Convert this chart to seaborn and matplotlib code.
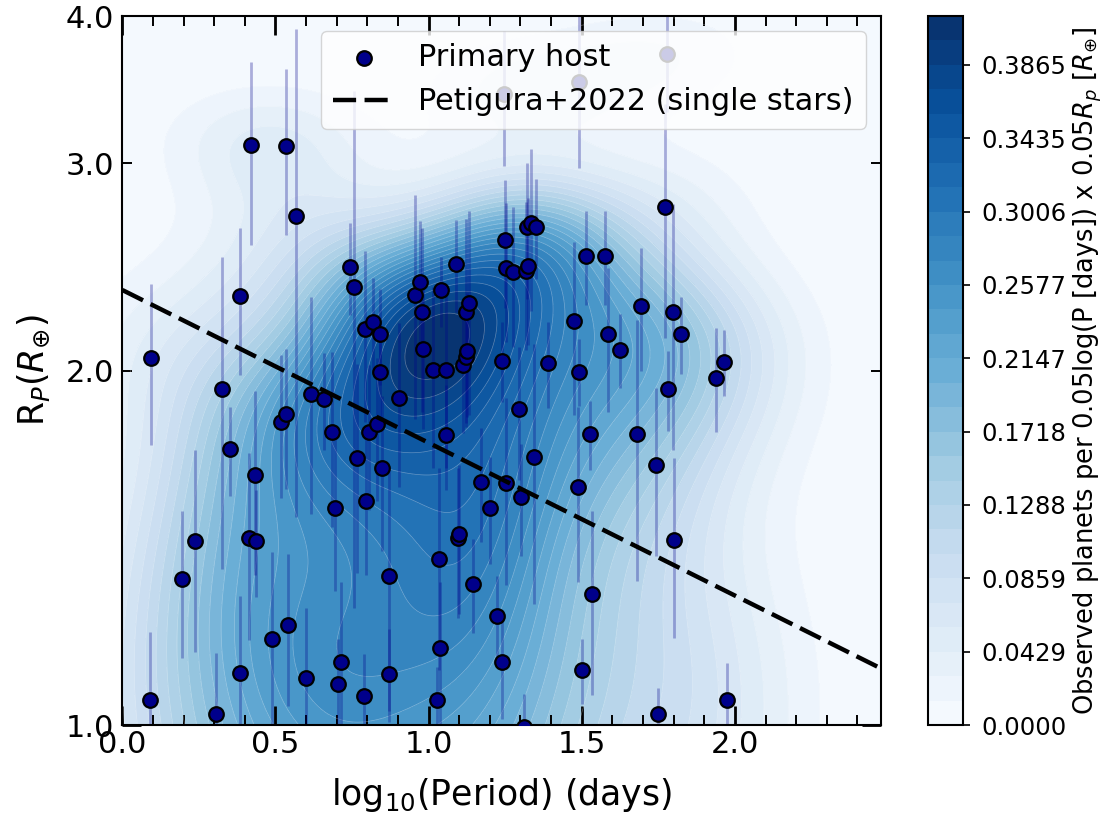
import numpy as np
import pandas as pd
import matplotlib
matplotlib.use("Agg")
import matplotlib.pyplot as plt
from matplotlib.ticker import AutoMinorLocator, FormatStrFormatter, MultipleLocator
import seaborn as sns

# planets around the primary host: log10(period / days), radius (R_earth), 1-sigma radius error
log_period = [0.089, 0.093, 0.306, 0.196, 0.238, 0.325, 0.352, 0.383, 0.383, 0.413,
              0.419, 0.434, 0.437, 0.490, 0.518, 0.533, 0.536, 0.541, 0.567, 0.600,
              0.616, 0.660, 0.685, 0.693, 0.705, 0.713, 0.743, 0.756, 0.766, 0.789,
              0.791, 0.795, 0.807, 0.817, 0.830, 0.840, 0.841, 0.847, 0.870, 0.872,
              0.904, 0.955, 0.972, 0.979, 0.981, 1.014, 1.026, 1.035, 1.037, 1.040,
              1.057, 1.057, 1.089, 1.095, 1.100, 1.111, 1.121, 1.122, 1.125, 1.132,
              1.146, 1.171, 1.200, 1.222, 1.238, 1.239, 1.250, 1.252, 1.252, 1.275,
              1.296, 1.301, 1.311, 1.318, 1.320, 1.324, 1.333, 1.345, 1.350, 1.390,
              1.474, 1.489, 1.492, 1.502, 1.515, 1.527, 1.532, 1.575, 1.586, 1.626,
              1.681, 1.694, 1.742, 1.750, 1.773, 1.783, 1.797, 1.801, 1.823, 1.937,
              1.965, 1.973, 1.247, 1.492, 1.777]
radius = [1.050, 2.048, 1.022, 1.330, 1.433, 1.928, 1.714, 2.314, 1.108, 1.441,
          3.108, 1.630, 1.434, 1.183, 1.810, 3.105, 1.836, 1.217, 2.703, 1.096,
          1.911, 1.891, 1.772, 1.529, 1.083, 1.132, 2.450, 2.356, 1.687, 1.059,
          2.168, 1.550, 1.772, 2.198, 1.800, 2.146, 1.996, 1.654, 1.106, 1.338,
          1.894, 2.320, 2.378, 2.244, 2.085, 2.004, 1.050, 1.383, 1.162, 2.339,
          2.004, 1.763, 2.462, 1.442, 1.452, 2.020, 2.242, 2.055, 2.076, 2.283,
          1.318, 1.609, 1.529, 1.237, 2.039, 1.132, 2.581, 2.444, 1.604, 2.423,
          1.856, 1.563, 0.997, 2.430, 2.649, 2.452, 2.667, 1.688, 2.650, 2.030,
          2.203, 1.593, 1.996, 1.113, 2.502, 1.765, 1.291, 2.503, 2.146, 2.082,
          1.766, 2.270, 1.663, 1.021, 2.751, 1.928, 2.241, 1.435, 2.148, 1.972,
          2.034, 1.050, 3.434, 3.514, 3.714]
radius_err = [0.15, 0.32, 0.13, 0.19, 0.28, 0.57, 0.15, 0.33, 0.18, 0.26,
              0.55, 0.29, 0.15, 0.22, 0.25, 0.50, 0.25, 0.18, 1.20, 0.16,
              0.40, 0.18, 0.30, 0.23, 0.10, 0.19, 0.22, 1.10, 0.34, 0.09,
              0.36, 0.21, 0.25, 0.20, 0.25, 0.20, 0.20, 0.25, 0.10, 0.31,
              0.30, 0.50, 0.30, 0.40, 0.30, 0.35, 0.07, 0.27, 0.16, 0.16,
              0.35, 0.18, 0.22, 0.21, 0.21, 0.25, 0.45, 0.25, 0.25, 0.45,
              0.12, 0.18, 0.16, 0.10, 0.16, 0.12, 0.32, 0.33, 0.29, 0.33,
              0.24, 0.17, 0.065, 0.35, 0.35, 0.35, 0.42, 0.42, 0.26, 0.17,
              0.37, 0.27, 0.13, 0.07, 0.23, 0.12, 0.23, 0.23, 0.30, 0.15,
              0.44, 0.27, 0.27, 0.055, 0.62, 0.15, 0.53, 0.25, 0.16, 0.20,
              0.13, 0.08, 0.45, 0.54, 0.40]

# radius valley of Petigura+2022 (end points across the plotted period range)
valley_logp = [0.0, 2.477]
valley_radius = [2.341, 1.117]

# colour scale of the density map
density_max = 0.41512
n_levels = 30

sns.set_style("ticks")
plt.rcParams["font.family"] = ["DejaVu Sans"]
plt.rcParams["mathtext.fontset"] = "dejavusans"
for key in ["text.color", "axes.labelcolor", "xtick.color", "ytick.color", "axes.edgecolor"]:
    plt.rcParams[key] = "black"

df = pd.DataFrame({"logP": log_period, "R": radius, "err": radius_err})

fig = plt.figure(figsize=(11.09, 8.13), dpi=100)
ax = fig.add_axes([0.1103, 0.1082, 0.6841, 0.8721])
cax = fig.add_axes([0.837, 0.1082, 0.0316, 0.8721])

# gaussian KDE of the observed planets in (log P, R), half-reflected at the R = 1 edge
gx = np.linspace(0.0, 2.477, 300)
gy = np.linspace(0.95, 4.1, 300)
GX, GY = np.meshgrid(gx, gy)
px = df["logP"].to_numpy()
py = df["R"].to_numpy()
bx = 0.21
by = 0.25
Z = np.zeros_like(GX)
for xi, yi in zip(px, py):
    for yy, w in ((yi, 1.0), (2.0 - yi, 0.5)):
        Z += w * np.exp(-0.5 * ((GX - xi) / bx) ** 2 - 0.5 * ((GY - yy) / by) ** 2)
Z = Z / Z.max() * density_max * 0.99999
levels = np.linspace(0, density_max, n_levels)

cf = ax.contourf(GX, GY, Z, levels=levels, cmap="Blues", zorder=0)
ax.contour(GX, GY, Z, levels=levels, colors="white", linewidths=0.5, alpha=0.35, zorder=1)

ax.errorbar(df["logP"], df["R"], yerr=df["err"], fmt="none", ecolor="darkblue",
            alpha=0.3, elinewidth=2, zorder=2)
sns.scatterplot(data=df, x="logP", y="R", ax=ax, color="darkblue", edgecolor="black",
                linewidth=1.6, s=110, zorder=3, label="Primary host")
sns.lineplot(x=valley_logp, y=valley_radius, ax=ax, color="black", lw=3.2,
             linestyle=(0, (5.2, 1.9)), zorder=4, label="Petigura+2022 (single stars)")

ax.set_yscale("log")
ax.set_xlim(0, 2.477)
ax.set_ylim(1.0, 4.0)
ax.xaxis.set_major_locator(MultipleLocator(0.5))
ax.xaxis.set_minor_locator(AutoMinorLocator(5))
ax.xaxis.set_major_formatter(FormatStrFormatter("%.1f"))
ax.yaxis.set_major_formatter(FormatStrFormatter("%.1f"))
ax.yaxis.set_minor_formatter(FormatStrFormatter("%.1f"))

ax.tick_params(which="both", direction="in", top=True, right=True, labelsize=22)
ax.tick_params(which="major", length=13.5, width=2)
ax.tick_params(which="minor", length=7, width=1.4)
ax.tick_params(axis="y", which="both", pad=6)
for sp in ax.spines.values():
    sp.set_linewidth(1.5)

ax.set_xlabel(r"log$_{10}$(Period) (days)", fontsize=25, labelpad=12)
ax.set_ylabel(r"R$_P$($R_{\oplus}$)", fontsize=25, labelpad=9.5)

handles, labels = ax.get_legend_handles_labels()
leg = ax.legend(handles, labels, loc="upper right", fontsize=21.8, framealpha=0.8)

cb = fig.colorbar(cf, cax=cax, ticks=levels[::3], format="%.4f")
cb.ax.tick_params(labelsize=17.5, length=5, width=1.2, pad=8)
cb.outline.set_linewidth(1.5)
cb.set_label(r"Observed planets per 0.05log(P [days]) x 0.05$R_p$ [$R_{\oplus}$]", fontsize=18.5)

fig.savefig("out.png", dpi=100)
